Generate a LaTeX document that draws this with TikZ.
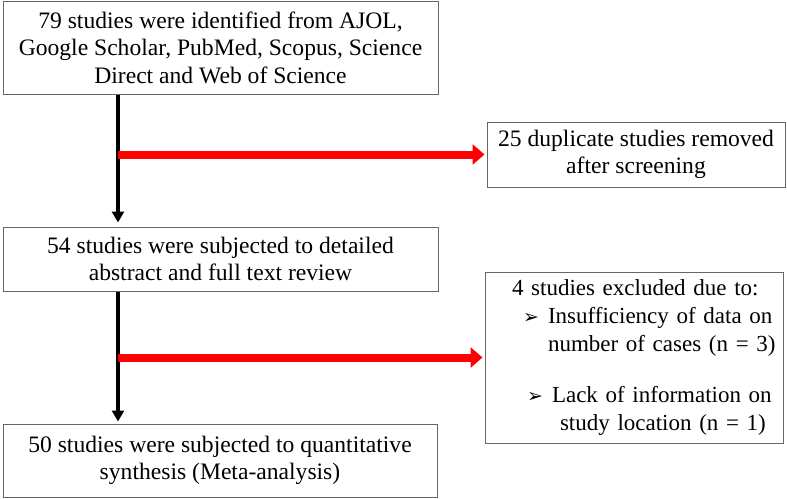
\documentclass[tikz,border=0pt]{standalone}
\usepackage{fontspec}
\setmainfont{Liberation Serif}
\newfontfamily\dingfont{DejaVu Sans}
\usetikzlibrary{arrows.meta,positioning}

\newcommand{\pointmark}{\makebox[25pt][l]{\dingfont\fontsize{19}{19}\selectfont ➢}}

\tikzset{
    box/.style={draw=black!60, line width=1pt, inner sep=0pt, align=center,
        font=\fontsize{23.6}{27.5}\selectfont},
    flow/.style={line width=3.5pt, -{Triangle[length=11pt,width=12pt]}},
    drop/.style={red, line width=8pt, -{Triangle[length=12pt,width=20pt]}}
}

\begin{document}
\begin{tikzpicture}[x=1pt,y=-1pt]
        \useasboundingbox (0,0) rectangle (787,498);

        % main column
        \node[box, minimum width=435, minimum height=93] (ident) at (220.5,47.5)
            {79 studies were identified from AJOL,\\
             Google Scholar, PubMed, Scopus, Science\\
             Direct and Web of Science};
        \node[box, minimum width=435, minimum height=64] (review) at (220.5,259)
            {54 studies were subjected to detailed\\
             abstract and full text review};
        \node[box, minimum width=434, minimum height=73] (synth) at (220,460.5)
            {50 studies were subjected to quantitative\\
             synthesis (Meta-analysis)};

        % side boxes
        \node[box, minimum width=298, minimum height=171, text width=290pt, align=left,
              font=\fontsize{23}{28.2}\selectfont] (excl) at (634,357.5)
            {\hspace*{23pt}\mbox{4 studies excluded due to:}\\
             \hspace*{34pt}\pointmark\mbox{Insufficiency of data on}\\
             \hspace*{59pt}\mbox{number of cases (n = 3)}\\[23pt]
             \hspace*{38pt}\pointmark\mbox{Lack of information on}\\
             \hspace*{71pt}\mbox{study location (n = 1)}};
        \node[box, minimum width=298, minimum height=65] (dupl) at (636,154.5)
            {25 duplicate studies removed\\
             after screening};

        \coordinate (spine) at (118,0);
        \coordinate (split1) at (118,154.5);
        \coordinate (split2) at (118,357.5);

        \draw[flow] (ident.south -| spine) -- ([yshift=4pt]review.north -| spine);
        \draw[flow] (review.south -| spine) -- ([yshift=2pt]synth.north -| spine);

        \draw[drop] (split1) -- ([xshift=-2pt]dupl.west);
        \draw[drop] (split2) -- ([xshift=-2pt]excl.west);
\end{tikzpicture}
\end{document}
